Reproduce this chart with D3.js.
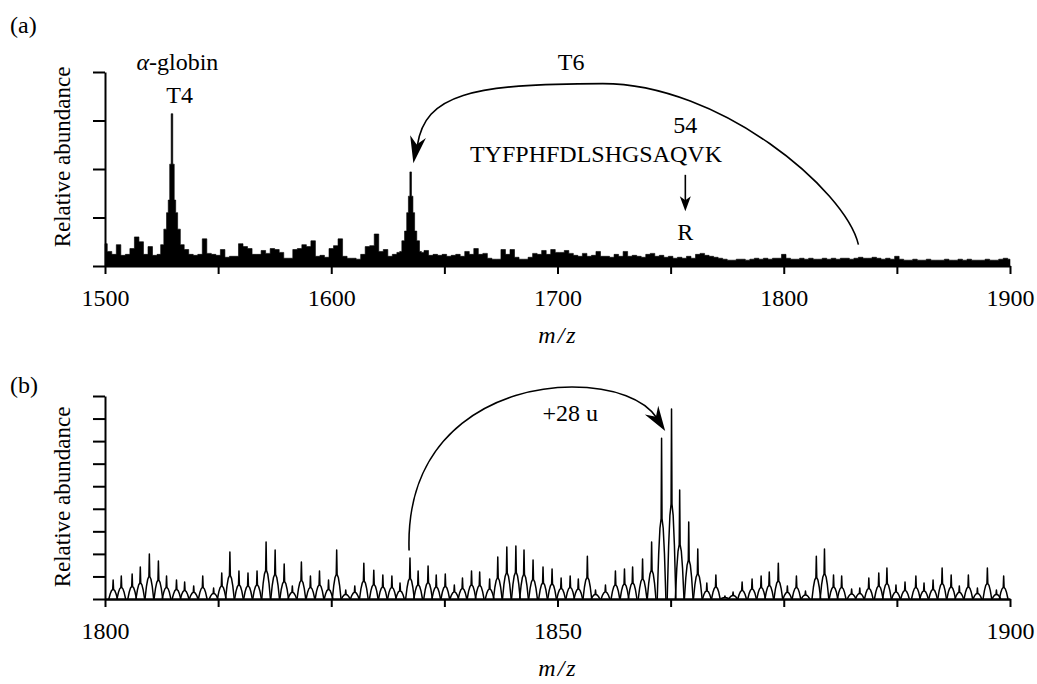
<!DOCTYPE html>
<html><head><meta charset="utf-8">
<script src="https://cdn.jsdelivr.net/npm/d3@7"></script>
<style>
html,body{margin:0;padding:0;background:#fff;}
svg text{font-family:"Liberation Serif","Times New Roman",serif;fill:#000;}
</style></head><body>
<svg id="chart" width="1037" height="684"></svg>
<script>
// ---------------- Panel (a) data ----------------
const mzDomainA = [1500, 1900];
const noiseStartA = 1500, noiseStepA = 2;
// background signal every 2 m/z, 1500 .. 1900
const noiseA = [
 23,15,12,22,11,12,18,30,25,12,20,11,12,13,20,20,18,14,17,12,11,12,28,13,12,
 11,17,9,10,10,23,20,18,12,12,16,13,18,17,14,8,8,17,18,22,20,26,10,11,9,
 18,21,28,10,8,8,7,12,20,21,33,15,17,10,12,14,15,20,20,15,14,16,11,12,11,
 12,10,11,12,10,15,12,18,12,13,8,7,7,17,12,17,9,7,7,9,13,12,16,12,17,
 14,14,16,13,11,10,13,10,11,15,10,10,9,12,10,15,10,11,10,9,12,13,10,11,9,
 10,8,9,8,10,8,12,13,11,10,9,8,7,6,6,7,7,6,7,8,7,8,7,8,8,
 12,8,7,7,8,7,8,7,7,8,7,8,7,8,8,7,8,9,8,8,9,8,7,8,7,
 10,7,6,6,7,6,6,7,6,6,6,7,6,6,7,6,7,6,6,6,7,6,6,7,8,
 7
];
// T4 peak profile
const t4Mz  = [1525.2,1526.8,1527.6,1528.3,1528.9,1529.6,1530.3,1530.9,1531.6,1532.6,1534.0];
const t4Int = [22,38,55,68,105,157,105,68,55,38,22];
// T6 peak profile
const t6Mz  = [1630.5,1631.9,1632.9,1633.8,1634.4,1635.1,1635.8,1636.4,1637.3,1638.3,1639.7];
const t6Int = [15,26,36,55,72,97,72,55,36,26,15];
const xTicksA = [1500,1550,1600,1650,1700,1750,1800,1850,1900];
const xTickLabelsA = ["1500","1600","1700","1800","1900"];
const yTicksA = [0,50,100,150,200];

// ---------------- Panel (b) data ----------------
const mzDomainB = [1800, 1900];
const peakMzB = [
 1800.9,1801.8,1803.0,1803.9,1804.9,1805.9,1806.8,1807.9,1808.8,1809.8,
 1810.8,1812.0,1812.9,1813.8,1814.8,1815.8,1816.8,1817.8,1818.8,1819.8,
 1820.7,1821.7,1822.7,1823.7,1824.7,1825.6,1826.6,1827.6,1828.6,1829.7,
 1830.7,1831.7,1832.6,1833.7,1834.6,1835.7,1836.6,1837.6,1838.6,1839.5,
 1840.5,1841.4,1842.5,1843.4,1844.4,1845.4,1846.3,1847.3,1848.4,1849.4,
 1850.4,1851.4,1852.3,1853.3,1854.2,1855.3,1856.4,1857.4,1858.3,1859.4,
 1860.4,1861.5,1862.6,1863.5,1864.5,1865.5,1866.5,1867.5,1868.5,1869.4,
 1870.4,1871.5,1872.5,1873.4,1874.4,1875.4,1876.4,1877.4,1878.6,1879.5,
 1880.5,1881.4,1882.5,1883.4,1884.4,1885.5,1886.4,1887.4,1888.4,1889.6,
 1890.5,1891.5,1892.5,1893.5,1894.4,1895.4,1896.4,1897.5,1898.5,1899.3
];
const peakIntB = [
 8.4,10.2,11.1,14.2,19.9,16.8,10.2,8.4,7.5,5.8,
 10.2,4.9,11.5,20.8,12.4,11.5,12.4,25.3,21.7,15.5,
 5.8,16.4,10.2,12.4,8.4,21.7,4.0,5.8,15.9,12.8,
 10.6,10.2,7.1,18.2,12.4,14.6,10.6,11.1,6.2,9.3,
 12.4,12.0,8.9,18.6,23.0,23.5,21.7,17.3,14.2,13.3,
 9.3,10.2,8.9,19.0,4.0,6.2,12.4,13.3,14.2,17.7,
 25.3,71.3,84.2,48.3,34.1,22.2,7.1,10.6,1.3,3.1,
 7.5,8.9,10.2,12.0,15.9,5.8,10.2,3.5,19.0,22.2,
 10.6,10.2,4.4,4.9,9.3,11.5,13.7,6.2,7.5,10.2,
 7.1,8.4,13.7,10.6,5.8,10.6,4.9,13.7,4.0,10.2
];
const xTicksB = [1800,1812.5,1825,1837.5,1850,1862.5,1875,1887.5,1900];
const xTickLabelsB = ["1800","1850","1900"];
const yTicksB = [0,10,20,30,40,50,60,70,80,90];

// ---------------- drawing ----------------
const svg = d3.select("#chart");
const FS = 24;

const xA = d3.scaleLinear().domain(mzDomainA).range([105,1010]);
const yA = d3.scaleLinear().domain([0,200]).range([266,72]);
const xB = d3.scaleLinear().domain(mzDomainB).range([105,1010]);
const yB = d3.scaleLinear().domain([0,90]).range([599,396]);

function styleAxis(g){
  g.selectAll("path.domain").attr("stroke","#000").attr("stroke-width",2);
  g.selectAll(".tick line").attr("stroke","#000").attr("stroke-width",2);
  g.selectAll(".tick text").attr("font-size",FS).attr("font-family",'"Liberation Serif","Times New Roman",serif').attr("fill","#000");
}
function arrowHead(tip, from, len, halfW, notch){
  const dx=tip[0]-from[0], dy=tip[1]-from[1], L=Math.hypot(dx,dy);
  const ux=dx/L, uy=dy/L, nx=-uy, ny=ux;
  const bx=tip[0]-ux*len, by=tip[1]-uy*len;
  const kx=tip[0]-ux*notch, ky=tip[1]-uy*notch;
  return `M${tip[0]},${tip[1]}L${bx+nx*halfW},${by+ny*halfW}L${kx},${ky}L${bx-nx*halfW},${by-ny*halfW}Z`;
}

// ----- Panel (a) spectrum -----
const inWin = (m, arr) => m >= arr[0]-0.01 && m <= arr[arr.length-1]+0.01;
let ptsA = noiseA.map((v,i)=>({mz: noiseStartA + i*noiseStepA, v}))
  .filter(p => !inWin(p.mz,t4Mz) && !inWin(p.mz,t6Mz));
ptsA = ptsA.concat(t4Mz.map((m,i)=>({mz:m,v:t4Int[i]})), t6Mz.map((m,i)=>({mz:m,v:t6Int[i]})));
ptsA.sort((a,b)=>a.mz-b.mz);

svg.append("path").datum(ptsA)
  .attr("fill","#000").attr("stroke","#000").attr("stroke-width",0.6)
  .attr("d", d3.area().x(d=>xA(d.mz)).y0(yA(0)).y1(d=>yA(d.v)).curve(d3.curveStep));

const gxA = svg.append("g").attr("transform",`translate(0,${yA(0)})`)
  .call(d3.axisBottom(xA).tickValues(xTicksA).tickSize(8).tickSizeOuter(0).tickPadding(15)
    .tickFormat(d => xTickLabelsA.includes(String(d)) ? String(d) : ""));
styleAxis(gxA);
const gyA = svg.append("g").attr("transform",`translate(${xA(mzDomainA[0])},0)`)
  .call(d3.axisLeft(yA).tickValues(yTicksA).tickSize(12).tickSizeOuter(0).tickFormat(""));
styleAxis(gyA);

// ----- Panel (b) spectrum -----
const shapeOff  = [-0.48,-0.32,-0.18,-0.05,0,0.05,0.18,0.32,0.48];
const shapeFrac = [0,0.28,0.44,0.5,1,0.5,0.44,0.28,0];
const peakLine = d3.line().x(d=>xB(d[0])).y(d=>yB(d[1]));
svg.append("g").selectAll("path").data(peakMzB.map((m,i)=>[m,peakIntB[i]])).join("path")
  .attr("fill","none").attr("stroke","#000").attr("stroke-width",1.5).attr("stroke-linejoin","round")
  .attr("d", d => peakLine(shapeOff.map((o,k)=>[d[0]+o, d[1]*shapeFrac[k]])));

const gxB = svg.append("g").attr("transform",`translate(0,${yB(0)})`)
  .call(d3.axisBottom(xB).tickValues(xTicksB).tickSize(8).tickSizeOuter(0).tickPadding(15)
    .tickFormat(d => xTickLabelsB.includes(String(d)) ? String(d) : ""));
styleAxis(gxB);
gxB.select("path.domain").attr("stroke-width",2.5);
const gyB = svg.append("g").attr("transform",`translate(${xB(mzDomainB[0])},0)`)
  .call(d3.axisLeft(yB).tickValues(yTicksB).tickSize(12).tickSizeOuter(0).tickFormat(""));
styleAxis(gyB);

// ----- Text labels -----
function txt(x,y,s,opts={}){
  const t = svg.append("text").attr("x",x).attr("y",y).attr("font-size",opts.size||FS)
    .attr("text-anchor",opts.anchor||"middle").text(s);
  if(opts.italic) t.attr("font-style","italic");
  if(opts.rotate) t.attr("transform",`rotate(-90,${x},${y})`);
  return t;
}
txt(10,33,"(a)",{anchor:"start"});
txt(10,393,"(b)",{anchor:"start"});
txt(70,157,"Relative abundance",{rotate:true,size:23});
txt(70,497,"Relative abundance",{rotate:true,size:23});
txt(558,343,"m/z",{italic:true}).attr("letter-spacing",2);
txt(558,676,"m/z",{italic:true}).attr("letter-spacing",2);

// alpha-globin / T4
const ag = svg.append("text").attr("x",xA(1532)).attr("y",yA(202)).attr("font-size",FS).attr("text-anchor","middle");
ag.append("tspan").attr("font-style","italic").text("α");
ag.append("tspan").text("-globin");
txt(xA(1533), yA(168), "T4");
txt(xA(1706), yA(202), "T6");
txt(xA(1717), yA(107), "TYFPHFDLSHGSAQVK");
txt(xA(1756.5), yA(137), "54");
txt(xA(1756.5), yA(27), "R");

// small down arrow 54 -> R
const ax = xA(1756.5);
svg.append("line").attr("x1",ax).attr("x2",ax).attr("y1",yA(94)).attr("y2",yA(62)).attr("stroke","#000").attr("stroke-width",1.6);
svg.append("path").attr("fill","#000").attr("d", arrowHead([ax,yA(56.5)],[ax,yA(94)],15,5.5,11));

// T6 arc (1833 -> T6 peak)
{
  const s=[xA(1833), yA(22)], top=[xA(1720), yA(188)], tip=[xA(1636.3), yA(106)];
  const c2=[tip[0]+12, top[1]+11];
  const e=[tip[0]+4, tip[1]-18];
  svg.append("path").attr("fill","none").attr("stroke","#000").attr("stroke-width",1.6)
    .attr("d",`M${s[0]},${s[1]}C${s[0]-13},${s[1]-55} ${top[0]+117},${top[1]} ${top[0]},${top[1]}C${top[0]-133},${top[1]} ${c2[0]},${c2[1]} ${e[0]},${e[1]}`);
  svg.append("path").attr("fill","#000").attr("d", arrowHead(tip, c2, 27, 8, 19));
}
// +28 u arc (panel b)
{
  const s=[xB(1833.6), yB(21.5)], top=[xB(1851.6), yB(94)], tip=[xB(1861.9), yB(74.5)];
  const c2=[top[0]+73, top[1]+13];
  const dx=tip[0]-c2[0], dy=tip[1]-c2[1], L=Math.hypot(dx,dy);
  const e=[tip[0]-dx/L*16, tip[1]-dy/L*16];
  svg.append("path").attr("fill","none").attr("stroke","#000").attr("stroke-width",1.6)
    .attr("d",`M${s[0]},${s[1]}C${s[0]-4},${s[1]-121} ${top[0]-72},${top[1]} ${top[0]},${top[1]}C${top[0]+43},${top[1]} ${c2[0]},${c2[1]} ${e[0]},${e[1]}`);
  svg.append("path").attr("fill","#000").attr("d", arrowHead(tip, c2, 25, 8, 17));
  txt(xB(1851.4), yB(78.9), "+28 u");
}
</script>
</body></html>
